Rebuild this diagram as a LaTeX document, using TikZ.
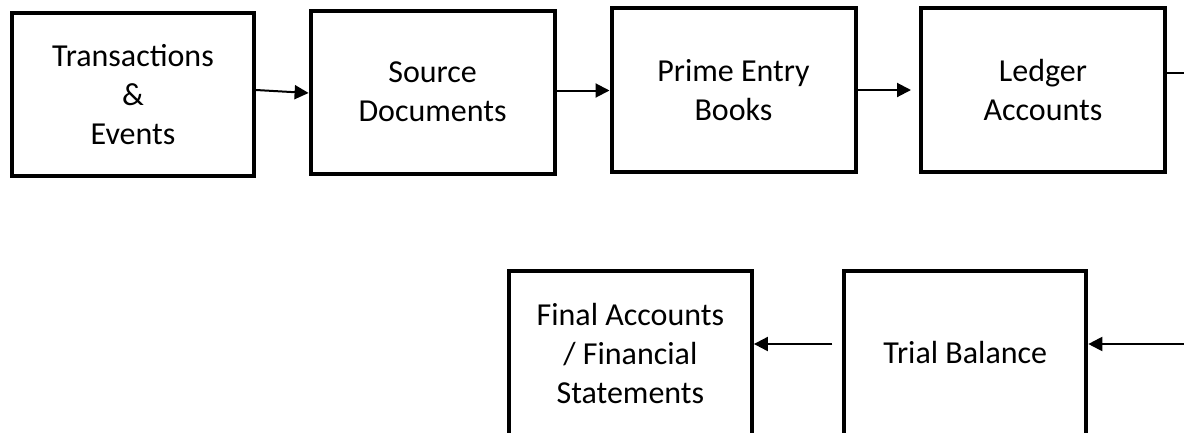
\documentclass[tikz,border=0pt]{standalone}
\usepackage{fontspec}
\setmainfont{Carlito}
\usetikzlibrary{arrows.meta}
\begin{document}
\begin{tikzpicture}[x=1pt,y=-1pt,
  box/.style={draw=black, line width=4pt, rectangle, align=center,
    font=\fontsize{32}{39}\selectfont, inner sep=0pt},
  conn/.style={draw=black, line width=2pt, -{Triangle[length=14pt,width=14pt]}},
  plainline/.style={draw=black, line width=2pt}]
\useasboundingbox (0,0) rectangle (1184,432);
\clip (0,0) rectangle (1184,432);
% top row
\node[box, minimum width=242pt, minimum height=163pt] (b1) at (133,94.5) {Transactions\\\&\\Events};
\node[box, minimum width=244pt, minimum height=163pt] (b2) at (432.6,92) {Source\\Documents};
\node[box, minimum width=244pt, minimum height=164pt] (b3) at (733.5,90.3) {Prime Entry\\Books};
\node[box, minimum width=244pt, minimum height=164pt] (b4) at (1043,90.3) {Ledger\\Accounts};
% bottom row
\node[box, minimum width=243pt, minimum height=164pt] (b5) at (630.4,353.3) {Final Accounts\\/ Financial\\Statements};
\node[box, minimum width=242pt, minimum height=164pt] (b6) at (965.3,353) {Trial Balance};
% free ends
\coordinate (r1) at (1192,73);
\coordinate (r2) at (1192,344);
% connectors
\draw[conn] (b1.east |- 0,90) -- (b2.west |- 0,93);
\draw[conn] (b2.east |- 0,90.5) -- (b3.west |- 0,90.5);
\draw[conn, shorten >=8pt] (b3.east |- 0,90) -- (b4.west |- 0,90);
\draw[plainline] (b4.east |- r1) -- (r1);
\draw[conn] (r2) -- (b6.east |- r2);
\draw[conn, shorten <=10pt] (b6.west |- r2) -- (b5.east |- r2);
\end{tikzpicture}
\end{document}
